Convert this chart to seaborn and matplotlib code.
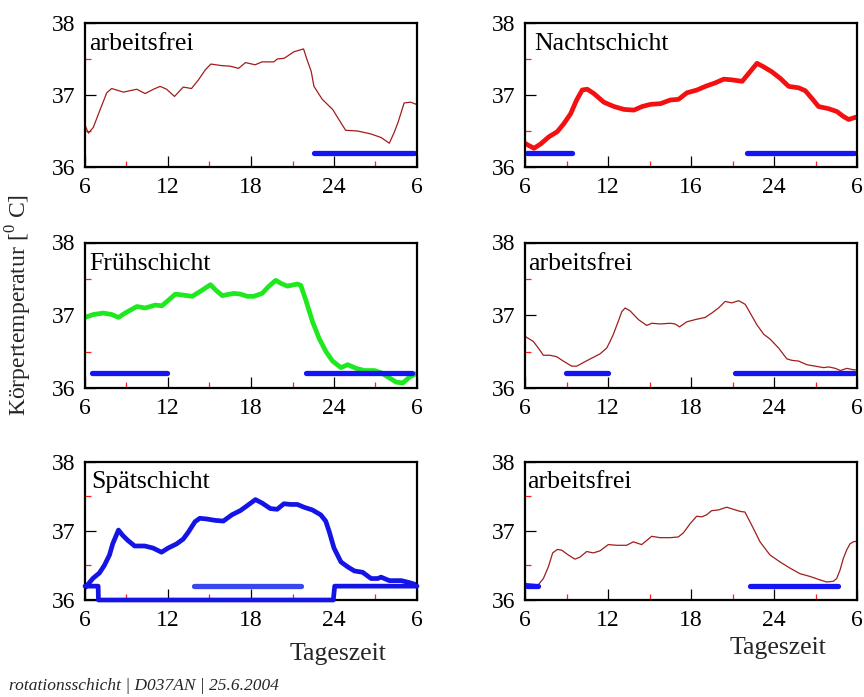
import numpy as np
import pandas as pd
import matplotlib
matplotlib.use("Agg")
import matplotlib.pyplot as plt
import seaborn as sns

# ---- temperature curves (hour of day, 6 .. 30 = 6 next morning) ----
frei1_h = [6.0, 6.25, 6.6, 7.1, 7.57, 7.93, 8.78, 9.74, 10.35, 10.95, 11.43, 11.9, 12.47, 13.1, 13.7,
           14.2, 14.7, 15.1, 15.8, 16.5, 17.1, 17.6, 18.3, 18.8, 19.65, 19.9, 20.4, 21.1, 21.8, 22.05,
           22.35, 22.55, 23.15, 23.9, 24.35, 24.84, 25.7, 26.65, 27.4, 28.0, 28.35, 28.63, 29.07,
           29.55, 29.95]
frei1_t = [36.58, 36.47, 36.55, 36.8, 37.03, 37.09, 37.04, 37.08, 37.02, 37.08, 37.12, 37.08, 36.98,
           37.11, 37.09, 37.21, 37.35, 37.43, 37.41, 37.40, 37.37, 37.45, 37.42, 37.46, 37.46, 37.5,
           37.51, 37.6, 37.64, 37.49, 37.33, 37.12, 36.94, 36.8, 36.66, 36.51, 36.5, 36.46, 36.41,
           36.33, 36.48, 36.62, 36.89, 36.9, 36.87]

nacht_h = [6.0, 6.17, 6.65, 7.13, 7.73, 8.33, 8.8, 9.3, 9.73, 10.14, 10.5, 10.98, 11.7, 12.43, 13.15,
           13.87, 14.47, 15.07, 15.8, 16.5, 17.1, 17.7, 18.44, 19.04, 19.77, 20.37, 20.97, 21.7, 22.17,
           22.77, 23.26, 23.86, 24.46, 25.06, 25.78, 26.26, 26.75, 27.22, 27.95, 28.55, 29.03, 29.4,
           29.88, 30.0]
nacht_t = [36.33, 36.31, 36.26, 36.32, 36.42, 36.49, 36.6, 36.74, 36.93, 37.07, 37.08, 37.02, 36.9,
           36.84, 36.8, 36.79, 36.84, 36.87, 36.88, 36.93, 36.94, 37.03, 37.07, 37.12, 37.17, 37.22,
           37.21, 37.19, 37.3, 37.44, 37.39, 37.32, 37.23, 37.12, 37.1, 37.06, 36.95, 36.84, 36.81,
           36.77, 36.7, 36.66, 36.69, 36.69]

frueh_h = [6.0, 6.6, 7.33, 7.94, 8.42, 8.9, 9.75, 10.35, 11.08, 11.56, 11.93, 12.53, 13.0, 13.74, 14.35,
           15.07, 15.43, 15.92, 16.76, 17.25, 17.73, 18.2, 18.8, 19.3, 19.79, 20.15, 20.63, 21.36, 21.6,
           21.96, 22.45, 22.93, 23.42, 23.9, 24.5, 24.99, 25.6, 26.2, 26.92, 27.4, 28.0, 28.5, 28.98,
           29.46, 29.95]
frueh_t = [36.97, 37.01, 37.03, 37.01, 36.97, 37.03, 37.12, 37.1, 37.14, 37.13, 37.19, 37.29, 37.28,
           37.26, 37.33, 37.42, 37.35, 37.27, 37.3, 37.29, 37.26, 37.26, 37.3, 37.4, 37.48, 37.44, 37.4,
           37.43, 37.41, 37.21, 36.91, 36.68, 36.5, 36.37, 36.28, 36.32, 36.27, 36.24, 36.24, 36.21,
           36.14, 36.08, 36.07, 36.15, 36.2]

frei2_h = [6.0, 6.6, 6.96, 7.33, 7.81, 8.29, 8.77, 9.38, 9.74, 10.22, 10.82, 11.43, 11.91, 12.15, 12.39,
           12.75, 13.0, 13.24, 13.6, 14.2, 14.8, 15.17, 15.77, 16.5, 16.85, 17.17, 17.7, 18.3, 19.02,
           19.5, 19.99, 20.47, 20.95, 21.44, 21.92, 22.28, 22.76, 23.25, 23.73, 24.33, 24.93, 25.3,
           25.78, 26.38, 26.98, 27.59, 27.95, 28.43, 28.8, 29.27, 29.76, 30.0]
frei2_t = [36.71, 36.64, 36.55, 36.45, 36.45, 36.43, 36.37, 36.3, 36.3, 36.35, 36.41, 36.47, 36.55,
           36.64, 36.74, 36.92, 37.05, 37.1, 37.06, 36.94, 36.86, 36.89, 36.88, 36.89, 36.88, 36.84,
           36.91, 36.94, 36.97, 37.03, 37.1, 37.19, 37.17, 37.2, 37.15, 37.03, 36.87, 36.74, 36.67,
           36.55, 36.4, 36.38, 36.37, 36.32, 36.3, 36.28, 36.29, 36.27, 36.24, 36.27, 36.25, 36.25]

spaet_h = [6.0, 6.07, 6.56, 7.04, 7.4, 7.77, 8.0, 8.42, 8.74, 9.1, 9.59, 10.32, 10.92, 11.53, 12.01,
           12.62, 13.1, 13.47, 13.95, 14.3, 14.8, 15.4, 16.0, 16.62, 17.22, 17.71, 18.32, 18.8, 19.4,
           19.89, 20.38, 20.86, 21.35, 21.83, 22.44, 23.04, 23.4, 23.65, 24.0, 24.5, 24.98, 25.47,
           26.07, 26.68, 27.16, 27.4, 28.0, 28.86, 29.47, 29.95]
spaet_t = [36.18, 36.19, 36.31, 36.39, 36.5, 36.65, 36.81, 37.01, 36.93, 36.86, 36.78, 36.78, 36.75,
           36.69, 36.75, 36.81, 36.88, 36.98, 37.13, 37.18, 37.17, 37.15, 37.14, 37.23, 37.29, 37.36,
           37.45, 37.4, 37.32, 37.31, 37.39, 37.38, 37.38, 37.34, 37.3, 37.23, 37.14, 36.99, 36.75,
           36.55, 36.48, 36.42, 36.4, 36.31, 36.31, 36.33, 36.28, 36.28, 36.25, 36.22]

# activity marker of the late shift (36.2 = at home, 36.0 = away)
spaet_akt_h = [6.0, 6.95, 6.97, 23.95, 24.05, 30.0]
spaet_akt_t = [36.2, 36.2, 36.0, 36.0, 36.2, 36.2]

frei3_h = [6.0, 6.48, 6.96, 7.33, 7.69, 8.0, 8.34, 8.65, 9.13, 9.61, 9.98, 10.46, 10.94, 11.42, 12.02,
           12.63, 13.35, 13.83, 14.43, 14.8, 15.16, 15.76, 16.48, 17.08, 17.45, 17.93, 18.41, 18.77,
           19.13, 19.49, 19.98, 20.58, 21.06, 21.54, 21.9, 22.39, 22.99, 23.71, 24.43, 25.16, 25.88,
           26.6, 27.33, 27.81, 28.29, 28.53, 28.77, 29.01, 29.25, 29.49, 29.73, 30.0]
frei3_t = [36.24, 36.23, 36.22, 36.31, 36.48, 36.68, 36.73, 36.72, 36.65, 36.59, 36.62, 36.7, 36.68,
           36.71, 36.8, 36.79, 36.79, 36.84, 36.8, 36.86, 36.92, 36.9, 36.9, 36.91, 36.97, 37.1, 37.21,
           37.2, 37.23, 37.29, 37.3, 37.34, 37.31, 37.28, 37.27, 37.08, 36.84, 36.65, 36.55, 36.46,
           36.38, 36.34, 36.29, 36.26, 36.27, 36.31, 36.43, 36.6, 36.72, 36.81, 36.84, 36.85]

# sleep periods (start, end) in hours, drawn at 36.2
schlaf_frei1 = [(22.55, 29.8)]
schlaf_nacht = [(6.17, 9.4), (22.05, 29.75)]
schlaf_frueh = [(6.48, 11.93), (21.96, 29.63)]
schlaf_frei2 = [(8.97, 11.98), (21.2, 29.76)]
schlaf_spaet = [(13.88, 21.59)]
schlaf_frei3 = [(6.12, 6.96), (22.27, 28.65)]
schlaf_niveau = 36.2

titel = ["arbeitsfrei", "Nachtschicht", "Frühschicht", "arbeitsfrei", "Spätschicht", "arbeitsfrei"]
titel_x = [0.012, 0.027, 0.014, 0.008, 0.02, 0.007]
x_ticks = [6, 12, 18, 24, 30]
x_labels_std = ["6", "12", "18", "24", "6"]
x_labels_nacht = ["6", "12", "16", "24", "6"]
x_minor = [9, 15, 21, 27]
y_ticks = [36, 37, 38]
y_minor = [36.5, 37.5]

sns.set_theme(style="white")
plt.rcParams["font.family"] = ["Liberation Serif", "DejaVu Serif"]
plt.rcParams["mathtext.fontset"] = "custom"
plt.rcParams["mathtext.rm"] = "Liberation Serif"

fig = plt.figure(figsize=(8.64, 6.97), dpi=100)

col_left = [85 / 864, 525 / 864]
col_w = 332 / 864
rows = [(23, 167), (242.5, 388), (461.5, 600)]

def rect(r, c):
    top, bot = rows[r]
    return [col_left[c], 1 - bot / 697, col_w, (bot - top) / 697]

DARK = "#a11d1d"
SLEEP = "#1414f5"

panels = [
    (0, 0, frei1_h, frei1_t, DARK, 0.9, schlaf_frei1, x_labels_std),
    (0, 1, nacht_h, nacht_t, "#f41010", 3.4, schlaf_nacht, x_labels_nacht),
    (1, 0, frueh_h, frueh_t, "#1ee81e", 3.4, schlaf_frueh, x_labels_std),
    (1, 1, frei2_h, frei2_t, DARK, 0.9, schlaf_frei2, x_labels_std),
    (2, 0, spaet_h, spaet_t, "#1414e6", 3.4, schlaf_spaet, x_labels_std),
    (2, 1, frei3_h, frei3_t, DARK, 0.9, schlaf_frei3, x_labels_std),
]

axes = []
for i, (r, c, hh, tt, col, lw, schlaf, xlab) in enumerate(panels):
    ax = fig.add_axes(rect(r, c))
    axes.append(ax)
    df = pd.DataFrame({"Stunde": hh, "Temperatur": tt})
    sns.lineplot(data=df, x="Stunde", y="Temperatur", ax=ax, color=col, linewidth=lw,
                 sort=False, estimator=None, solid_joinstyle="round", solid_capstyle="round")
    sleep_col = "#3a46ee" if i == 4 else SLEEP
    for (a, b) in schlaf:
        sdf = pd.DataFrame({"Stunde": [a, b], "Temperatur": [schlaf_niveau, schlaf_niveau]})
        sns.lineplot(data=sdf, x="Stunde", y="Temperatur", ax=ax, color=sleep_col, linewidth=3.8,
                     solid_capstyle="round", estimator=None, sort=False)
    if i == 4:
        adf = pd.DataFrame({"Stunde": spaet_akt_h, "Temperatur": spaet_akt_t})
        sns.lineplot(data=adf, x="Stunde", y="Temperatur", ax=ax, color="#1414e6", linewidth=3.4,
                     estimator=None, sort=False, clip_on=False, zorder=3)

    ax.set_xlim(6, 30)
    ax.set_ylim(36, 38)
    ax.set_xticks(x_ticks)
    ax.set_xticklabels(xlab)
    ax.set_xticks(x_minor, minor=True)
    ax.set_yticks(y_ticks)
    ax.set_yticklabels([str(v) for v in y_ticks])
    ax.set_yticks(y_minor, minor=True)
    ax.tick_params(axis="both", which="major", direction="in", length=8, width=0.9,
                   color="black", labelsize=17, labelcolor="black")
    ax.tick_params(axis="x", which="major", pad=7)
    ax.tick_params(axis="y", which="major", pad=7)
    ax.tick_params(axis="both", which="minor", direction="in", length=4, width=0.9, color="#ff2020")
    ax.tick_params(bottom=True, left=True, which="both")
    ax.set_xlabel("")
    ax.set_ylabel("")
    ax.grid(False)
    for s in ax.spines.values():
        s.set_color("black")
        s.set_linewidth(1.6)
        s.set_visible(True)
    ax.text(titel_x[i], 0.81, titel[i], transform=ax.transAxes,
            fontsize=18.5, va="baseline", ha="left", color="black")

fig.text(19 / 864, 1 - 305 / 697, r"Körpertemperatur [$^{\mathrm{0}}$ C]", rotation=90, fontsize=17,
         ha="center", va="center")
fig.text(338 / 864, 1 - 660 / 697, "Tageszeit", fontsize=18.5, ha="center", va="baseline")
fig.text(778 / 864, 1 - 654 / 697, "Tageszeit", fontsize=18.5, ha="center", va="baseline")
fig.text(9 / 864, 1 - 690 / 697, "rotationsschicht | D037AN | 25.6.2004", fontsize=12.5,
         style="italic", ha="left", va="baseline")

fig.savefig("out.png", dpi=100, facecolor="white")
